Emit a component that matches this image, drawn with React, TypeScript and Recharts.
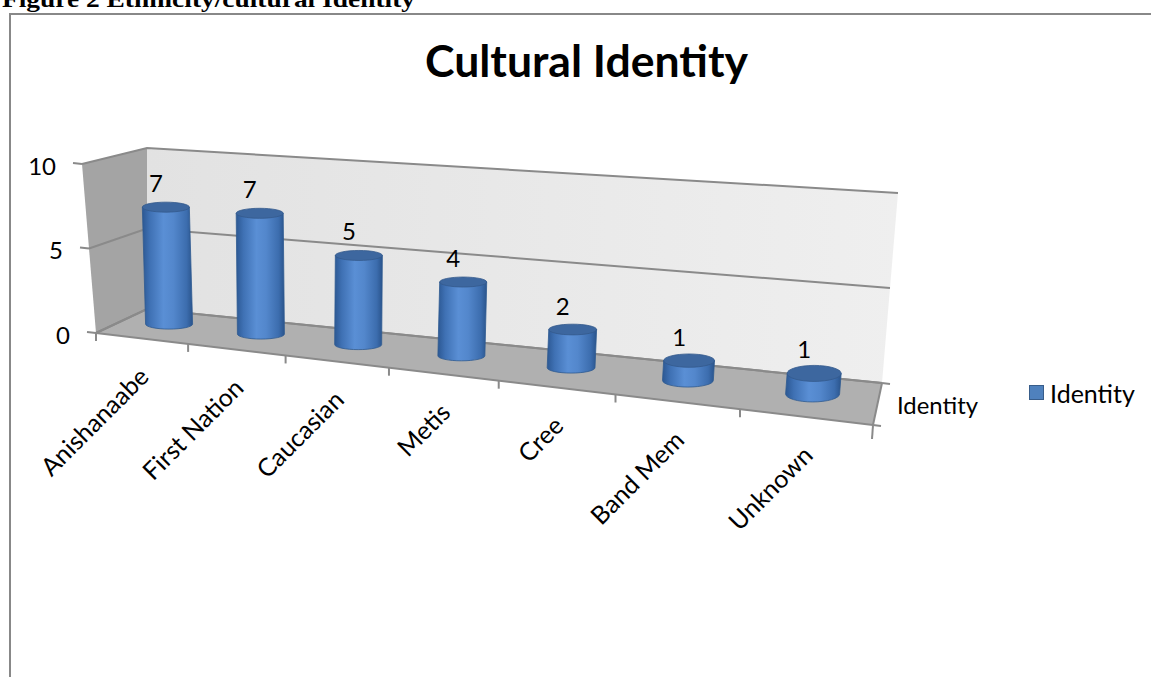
import { BarChart, Bar, XAxis, YAxis, CartesianGrid, Legend, LabelList } from 'recharts'

const categories = ['Anishanaabe', 'First Nation', 'Caucasian', 'Metis', 'Cree', 'Band Mem', 'Unknown']
const identityCounts = [7, 7, 5, 4, 2, 1, 1]
const valueTicks = [0, 5, 10]
const seriesName = 'Identity'
const chartTitle = 'Cultural Identity'
const figureCaption = 'Figure 2 Ethnicity/cultural Identity'

const data = categories.map((name, i) => ({ name, [seriesName]: identityCounts[i] }))

const W = 1151
const H = 677
const FONT = "Lato, 'Open Sans', sans-serif"
const EDGE = '#8a8a8a'

// flat plot area given to recharts, its coords get projected into the 3d box below
const PL = 147
const PR = 882
const PT = 148
const PB = 309
const PW = PR - PL
const PH = PB - PT
const AXIS_SIZE = 1 // axes need a non-zero size or recharts skips them

type Pt = [number, number]
// box corners on screen: front/back, bottom(0)/top(1)
const FL0: Pt = [96, 333]
const FR0: Pt = [873, 425]
const FL1: Pt = [82, 164]
const FR1: Pt = [893, 190]
const BL0: Pt = [147, 309]
const BR0: Pt = [882, 383]
const BL1: Pt = [147, 148]
const BR1: Pt = [898, 193]
const PERSP = 0.807
const BAR_Z = 0.57

const lerp = (a: Pt, b: Pt, t: number): Pt => [a[0] + (b[0] - a[0]) * t, a[1] + (b[1] - a[1]) * t]
const warp = (u: number) => (PERSP * u) / (1 - (1 - PERSP) * u)
const clamp01 = (v: number) => Math.max(0, Math.min(1, v))

// u: along categories 0..1, w: value 0..1, z: 0 front .. 1 back
function project(u: number, w: number, z: number): Pt {
  const s = warp(u)
  const front = lerp(lerp(FL0, FR0, s), lerp(FL1, FR1, s), w)
  const back = lerp(lerp(BL0, BR0, s), lerp(BL1, BR1, s), w)
  return lerp(front, back, z)
}

const toU = (px: number) => (px - PL) / PW
const toW = (py: number) => (PB - py) / PH

function Cylinder(props: any) {
  const { x, y, width, height } = props
  if (height == null || isNaN(height)) return null
  const u = toU(x + width / 2)
  const top = project(u, toW(y), BAR_Z)
  const bot = project(u, toW(y + height), BAR_Z)
  const k = clamp01((warp(u) - 0.55) / 0.36)
  const r = 23.5 + 3.5 * k
  const ry = 5 + 3 * k
  const body = `M${top[0] - r},${top[1]} L${bot[0] - r},${bot[1]} A${r},${ry} 0 0 0 ${bot[0] + r},${bot[1]} L${top[0] + r},${top[1]} Z`
  return (
    <g>
      <path d={body} fill="url(#cylBody)" stroke="#2e5a91" strokeWidth={0.8} />
      <ellipse cx={top[0]} cy={top[1]} rx={r} ry={ry} fill="#3d679f" stroke="#33598c" strokeWidth={0.8} />
    </g>
  )
}

function ValueLabel(props: any) {
  const { x, y, width, value } = props
  const p = project(toU(Number(x) + Number(width) / 2), toW(Number(y)), BAR_Z)
  return (
    <text x={p[0] - 10} y={p[1] - 15} textAnchor="middle" fontFamily={FONT} fontSize={24} fill="#000">
      {value}
    </text>
  )
}

function CategoryTick(props: any) {
  const { x, payload, index } = props
  const half = PW / categories.length / 2
  const p = project(toU(x), 0, 0)
  const left = project(toU(x - half), 0, 0)
  const right = project(toU(x + half), 0, 0)
  return (
    <g>
      <line x1={left[0]} y1={left[1]} x2={left[0]} y2={left[1] + 8} stroke={EDGE} strokeWidth={2} />
      {index === categories.length - 1 && (
        <line x1={right[0]} y1={right[1]} x2={right[0] - 1} y2={right[1] + 14} stroke={EDGE} strokeWidth={2} />
      )}
      <text
        transform={`translate(${p[0] + 9},${p[1] + 40}) rotate(-45)`}
        textAnchor="end"
        fontFamily={FONT}
        fontSize={25}
        fill="#000"
      >
        {payload.value}
      </text>
    </g>
  )
}

function ValueTick(props: any) {
  const { y, payload } = props
  const p = project(0, toW(y), 0)
  const dx = -9
  const dy = dx * ((FR0[1] - FL0[1]) / (FR0[0] - FL0[0]))
  return (
    <g>
      <line x1={p[0]} y1={p[1]} x2={p[0] + dx} y2={p[1] + dy} stroke={EDGE} strokeWidth={2} />
      <text x={p[0] + dx - 17} y={p[1] + 1} textAnchor="end" dominantBaseline="central" fontFamily={FONT} fontSize={24} fill="#000">
        {payload.value}
      </text>
    </g>
  )
}

function GridLine(props: any) {
  const w = toW(props.y1)
  const a = project(0, w, 0)
  const b = project(0, w, 1)
  const c = project(1, w, 1)
  return <polyline points={`${a[0]},${a[1]} ${b[0]},${b[1]} ${c[0]},${c[1]}`} fill="none" stroke={EDGE} strokeWidth={2} />
}

function LegendBox({ payload }: any) {
  return (
    <div style={{ fontFamily: FONT, fontSize: 25, color: '#000', whiteSpace: 'nowrap', lineHeight: '30px' }}>
      {(payload || []).map((e: any) => (
        <span key={e.value} style={{ display: 'inline-flex', alignItems: 'center' }}>
          <span style={{ width: 13, height: 13, background: '#4f81bd', border: '1px solid #385d8a', marginRight: 6 }} />
          {e.value}
        </span>
      ))}
    </div>
  )
}

const pts = (list: Pt[]) => list.map((p) => `${p[0]},${p[1]}`).join(' ')

function Frame() {
  const tickDir = (FR0[1] - FL0[1]) / (FR0[0] - FL0[0])
  return (
    <svg width={W} height={H} style={{ position: 'absolute', left: 0, top: 0 }}>
      <defs>
        <linearGradient id="cylBody" x1="0" y1="0" x2="1" y2="0">
          <stop offset="0" stopColor="#2c5893" />
          <stop offset="0.15" stopColor="#3f71b4" />
          <stop offset="0.42" stopColor="#5a8fd5" />
          <stop offset="0.62" stopColor="#5387cc" />
          <stop offset="0.88" stopColor="#3c6dae" />
          <stop offset="1" stopColor="#2a548c" />
        </linearGradient>
        <linearGradient id="backWall" x1="0" y1="0" x2="1" y2="0">
          <stop offset="0" stopColor="#e2e2e2" />
          <stop offset="1" stopColor="#efefef" />
        </linearGradient>
      </defs>
      <text x={2} y={7} fontFamily="'Liberation Serif', serif" fontWeight="bold" fontSize={24} textLength={413} lengthAdjust="spacingAndGlyphs">
        {figureCaption}
      </text>
      <text x={425} y={77} fontFamily={FONT} fontWeight="bold" fontSize={43} textLength={323} lengthAdjust="spacingAndGlyphs">
        {chartTitle}
      </text>
      <polygon points={pts([BL0, BR0, BR1, BL1])} fill="url(#backWall)" />
      <polygon points={pts([FL0, BL0, BL1, FL1])} fill="#a4a4a4" />
      <polygon points={pts([FL0, FR0, BR0, BL0])} fill="#b0b0b0" />
      <polyline points={pts([FL0, BL0, BR0])} fill="none" stroke={EDGE} strokeWidth={2} />
      <line x1={FL0[0]} y1={FL0[1]} x2={FR0[0]} y2={FR0[1]} stroke={EDGE} strokeWidth={2} />
      <line x1={FR0[0]} y1={FR0[1]} x2={BR0[0]} y2={BR0[1]} stroke={EDGE} strokeWidth={2} />
      <line x1={FR0[0]} y1={FR0[1]} x2={FR0[0] + 8} y2={FR0[1] + 8 * tickDir} stroke={EDGE} strokeWidth={2} />
      <line x1={BR0[0]} y1={BR0[1]} x2={BR0[0] + 8} y2={BR0[1] + 8 * tickDir} stroke={EDGE} strokeWidth={2} />
      <text x={897} y={414} fontFamily={FONT} fontSize={24} fill="#000" textLength={81} lengthAdjust="spacingAndGlyphs">
        {seriesName}
      </text>
    </svg>
  )
}

export default function App() {
  return (
    <div style={{ position: 'absolute', left: 0, top: 0, width: W, height: H, overflow: 'hidden', background: '#fff' }}>
      <div
        style={{
          position: 'absolute',
          left: 9,
          top: 13,
          width: W,
          height: H,
          border: '2px solid #888',
          boxSizing: 'border-box',
        }}
      />
      <Frame />
      <div style={{ position: 'absolute', left: 0, top: 0 }}>
        <BarChart
          width={W}
          height={H}
          data={data}
          margin={{ top: PT, left: PL - AXIS_SIZE, right: W - PR, bottom: H - PB - AXIS_SIZE }}
        >
          <CartesianGrid vertical={false} horizontal={(p: any) => <GridLine key={p.key} {...p} />} />
          <XAxis
            dataKey="name"
            height={AXIS_SIZE}
            interval={0}
            axisLine={false}
            tickLine={false}
            tick={(p: any) => <CategoryTick {...p} />}
          />
          <YAxis
            width={AXIS_SIZE}
            domain={[0, 10]}
            ticks={valueTicks}
            interval={0}
            axisLine={false}
            tickLine={false}
            tick={(p: any) => <ValueTick {...p} />}
          />
          <Legend
            layout="horizontal"
            align="center"
            verticalAlign="middle"
            wrapperStyle={{ left: 1029, top: 375, width: 'auto' }}
            content={(p: any) => <LegendBox payload={p.payload} />}
          />
          <Bar dataKey={seriesName} name={seriesName} fill="#4f81bd" isAnimationActive={false} shape={(p: any) => <Cylinder {...p} />}>
            <LabelList dataKey={seriesName} content={(p: any) => <ValueLabel {...p} />} />
          </Bar>
        </BarChart>
      </div>
    </div>
  )
}
